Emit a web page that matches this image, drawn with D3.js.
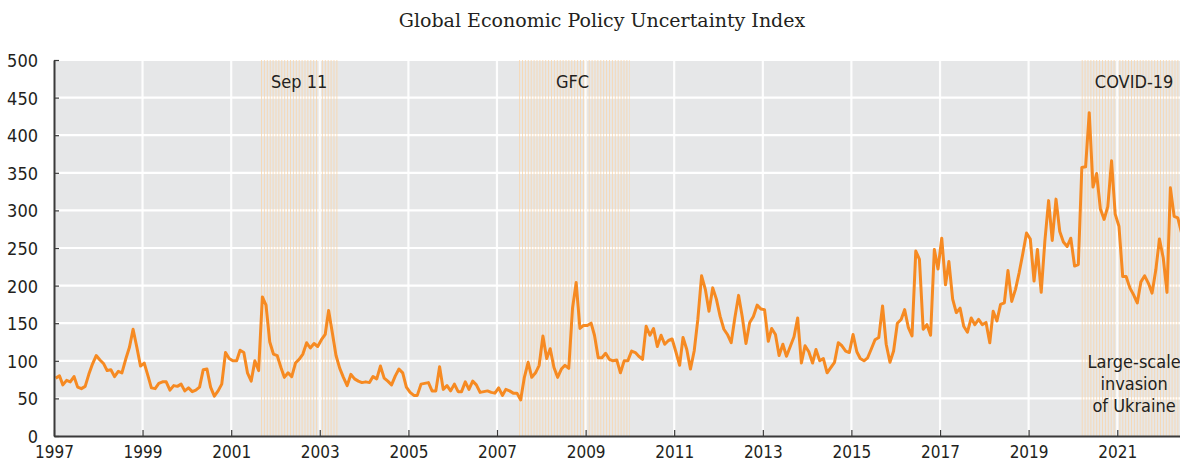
<!DOCTYPE html>
<html>
<head>
<meta charset="utf-8">
<script src="https://d3js.org/d3.v7.min.js"></script>
<style>
body { margin: 0; background: #fff; }
svg { display: block; }
.axis text, .lbl { font-family: "Liberation Sans Narrow", "Arial Narrow", "DejaVu Sans Condensed", sans-serif; font-size: 18px; fill: #231f20; }
.axis path, .axis line { stroke: #3a3a3a; }
.sub { font-family: "DejaVu Serif", serif; font-size: 19px; fill: #231f20; }
</style>
</head>
<body>
<svg width="1180" height="465"></svg>
<script>

// Global EPU index, monthly from Jan 1997
var startYear = 1997;
var gepu = [
  77, 80, 68, 74, 72, 79, 65, 63, 66, 82, 96, 107,        // 1997
  101, 96, 87, 88, 79, 86, 84, 102, 118, 142, 118, 93,    // 1998
  97, 80, 64, 63, 70, 72, 72, 61, 67, 66, 69, 60,         // 1999
  64, 59, 61, 65, 88, 89, 65, 53, 60, 69, 111, 103,       // 2000
  100, 100, 114, 111, 84, 73, 100, 87, 185, 174, 125, 109,// 2001
  107, 91, 78, 84, 79, 97, 102, 109, 124, 117, 123, 119,  // 2002
  128, 135, 167, 137, 107, 90, 78, 67, 82, 76, 73, 71,    // 2003
  72, 71, 79, 76, 93, 77, 73, 68, 80, 89, 84, 65,         // 2004
  58, 54, 54, 69, 70, 71, 60, 60, 92, 62, 67, 60,         // 2005
  69, 59, 59, 72, 62, 73, 68, 58, 59, 60, 58, 57,         // 2006
  64, 54, 62, 60, 57, 57, 48, 78, 98, 78, 84, 94,         // 2007
  133, 103, 116, 91, 78, 89, 94, 90, 170, 204, 143, 147,  // 2008
  147, 150, 134, 104, 104, 110, 102, 100, 101, 84, 100, 100, // 2009
  113, 111, 106, 102, 146, 134, 143, 119, 134, 122, 127, 129, // 2010
  112, 94, 131, 115, 89, 113, 155, 213, 195, 166, 197, 182,   // 2011
  159, 142, 135, 124, 157, 187, 159, 123, 151, 159, 174, 169, // 2012
  168, 126, 143, 135, 107, 122, 106, 119, 132, 157, 97, 120,  // 2013
  112, 97, 115, 100, 103, 84, 91, 98, 124, 120, 113, 111,     // 2014
  135, 112, 103, 100, 104, 116, 128, 131, 173, 122, 98, 113,  // 2015
  150, 155, 168, 144, 133, 246, 235, 142, 148, 134, 248, 222, // 2016
  263, 201, 232, 182, 164, 170, 146, 138, 157, 148, 155, 148, // 2017
  151, 124, 166, 153, 175, 177, 220, 179, 195, 217, 243, 270, // 2018
  262, 206, 248, 191, 259, 313, 260, 315, 272, 258, 252, 263, // 2019
  226, 228, 357, 358, 430, 331, 349, 302, 288, 305, 366, 295, // 2020
  279, 212, 212, 197, 188, 177, 205, 213, 203, 190, 221, 262, // 2021
  237, 191, 330, 292, 290, 270                                // 2022
];

var eventNames = ["Sep 11", "GFC", "COVID-19"];
var eventStart = ["2001-09-01", "2007-07-01", "2020-03-01"];
var eventEnd   = ["2003-06-01", "2010-01-01", "2023-01-01"];
var eventLabelAt = ["2002-07-15", "2008-09-15", "2021-05-20"];
var ukraineLines = ["Large-scale", "invasion", "of Ukraine"];

var yTicks = [0, 50, 100, 150, 200, 250, 300, 350, 400, 450, 500];
var xTickYears = [1997, 1999, 2001, 2003, 2005, 2007, 2009, 2011, 2013, 2015, 2017, 2019, 2021];
var subtitle = "Global Economic Policy Uncertainty Index";

var svg = d3.select("svg"),
    margin = {top: 60, left: 54},
    height = 376;

var parse = d3.timeParse("%Y-%m-%d");

var data = gepu.map(function(v, i) {
  return { date: new Date(startYear + Math.floor(i / 12), i % 12, 15), value: v };
});

var x = d3.scaleTime()
    .domain([new Date(1997, 0, 1), new Date(2023, 0, 1)])
    .range([margin.left, margin.left + 26 * 44.3]);

var y = d3.scaleLinear()
    .domain([0, 500])
    .range([margin.top + height, margin.top]);

var x0 = x.range()[0], x1 = x.range()[1];

// background
svg.append("rect")
    .attr("x", x0).attr("y", y(500))
    .attr("width", x1 - x0).attr("height", y(0) - y(500))
    .attr("fill", "#e6e7e8");

// horizontal grid
svg.append("g").selectAll("line")
    .data(yTicks.filter(function(d) { return d > 0; }))
  .enter().append("line")
    .attr("x1", x0).attr("x2", x1)
    .attr("y1", function(d) { return y(d); })
    .attr("y2", function(d) { return y(d); })
    .attr("stroke", "#fff").attr("stroke-width", 2.2);

// striped event bands
var defs = svg.append("defs");
var pat = defs.append("pattern")
    .attr("id", "stripes")
    .attr("patternUnits", "userSpaceOnUse")
    .attr("width", 2.9).attr("height", 10);
pat.append("rect")
    .attr("x", 0).attr("y", 0).attr("width", 1).attr("height", 10)
    .attr("fill", "#f8d6ae").attr("fill-opacity", 0.85);

svg.append("g").selectAll("rect")
    .data(eventStart)
  .enter().append("rect")
    .attr("x", function(d) { return x(parse(d)); })
    .attr("width", function(d, i) { return x(parse(eventEnd[i])) - x(parse(d)); })
    .attr("y", y(500))
    .attr("height", y(0) - y(500))
    .attr("fill", "url(#stripes)");

// vertical grid
svg.append("g").selectAll("line")
    .data(xTickYears.slice(1))
  .enter().append("line")
    .attr("x1", function(d) { return x(new Date(d, 0, 1)); })
    .attr("x2", function(d) { return x(new Date(d, 0, 1)); })
    .attr("y1", y(500)).attr("y2", y(0))
    .attr("stroke", "#fff").attr("stroke-opacity", 0.9).attr("stroke-width", 2.2);

// line
var line = d3.line()
    .x(function(d) { return x(d.date); })
    .y(function(d) { return y(d.value); });

svg.append("path")
    .datum(data)
    .attr("fill", "none")
    .attr("stroke", "#f68a22")
    .attr("stroke-width", 3)
    .attr("stroke-linejoin", "round")
    .attr("d", line);

// axes
var xAxis = svg.append("g")
    .attr("class", "axis")
    .attr("transform", "translate(0," + y(0) + ")")
    .call(d3.axisBottom(x)
      .tickValues(xTickYears.map(function(d) { return new Date(d, 0, 1); }))
      .tickFormat(d3.timeFormat("%Y"))
      .tickSizeInner(-6).tickSizeOuter(0).tickPadding(10));
xAxis.select(".domain").attr("stroke-width", 2);
xAxis.selectAll(".tick line").attr("stroke-width", 1.2);
xAxis.selectAll(".tick text").style("font-size", "17px");

var yAxis = svg.append("g")
    .attr("class", "axis")
    .attr("transform", "translate(" + x0 + ",0)")
    .call(d3.axisLeft(y)
      .tickValues(yTicks)
      .tickSizeInner(-5).tickSizeOuter(0).tickPadding(16));
yAxis.select(".domain").attr("stroke-width", 2);
yAxis.selectAll(".tick line").attr("stroke-width", 1.2);
yAxis.selectAll(".tick text").attr("dy", "0.36em");

// event labels
svg.append("g").selectAll("text")
    .data(eventNames)
  .enter().append("text")
    .attr("class", "lbl")
    .attr("x", function(d, i) { return x(parse(eventLabelAt[i])); })
    .attr("y", 88)
    .attr("text-anchor", "middle")
    .text(function(d) { return d; });

svg.append("g").selectAll("text")
    .data(ukraineLines)
  .enter().append("text")
    .attr("class", "lbl")
    .attr("x", x(parse("2021-05-20")))
    .attr("y", function(d, i) { return 368 + i * 22; })
    .attr("text-anchor", "middle")
    .text(function(d) { return d; });

// subtitle
svg.append("text")
    .attr("class", "sub")
    .attr("x", 602).attr("y", 27)
    .attr("text-anchor", "middle")
    .text(subtitle);

</script>
</body>
</html>
